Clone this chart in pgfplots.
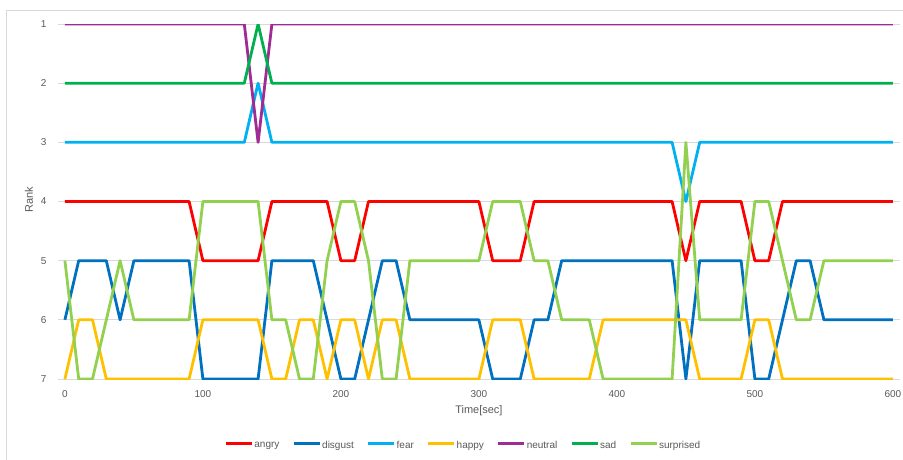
\documentclass[border=0pt]{standalone}
\usepackage{fontspec}
\setmainfont{Liberation Sans}
\usepackage{pgfplots}
\usepackage{pgfplotstable}
\pgfplotsset{compat=1.18}
\definecolor{cangry}{HTML}{FF0000}
\definecolor{cdisgust}{HTML}{0070C0}
\definecolor{cfear}{HTML}{00B0F0}
\definecolor{chappy}{HTML}{FFC000}
\definecolor{cneutral}{HTML}{A02B93}
\definecolor{csad}{HTML}{00B050}
\definecolor{csurprised}{HTML}{92D050}
\definecolor{txtgray}{RGB}{89,89,89}
\definecolor{gridgray}{RGB}{217,217,217}
\pgfplotstableread{
t an di fe ha ne sa su
0   4 6 3 7 1 2 5
10  4 5 3 6 1 2 7
20  4 5 3 6 1 2 7
30  4 5 3 7 1 2 6
40  4 6 3 7 1 2 5
50  4 5 3 7 1 2 6
60  4 5 3 7 1 2 6
70  4 5 3 7 1 2 6
80  4 5 3 7 1 2 6
90  4 5 3 7 1 2 6
100 5 7 3 6 1 2 4
110 5 7 3 6 1 2 4
120 5 7 3 6 1 2 4
130 5 7 3 6 1 2 4
140 5 7 2 6 3 1 4
150 4 5 3 7 1 2 6
160 4 5 3 7 1 2 6
170 4 5 3 6 1 2 7
180 4 5 3 6 1 2 7
190 4 6 3 7 1 2 5
200 5 7 3 6 1 2 4
210 5 7 3 6 1 2 4
220 4 6 3 7 1 2 5
230 4 5 3 6 1 2 7
240 4 5 3 6 1 2 7
250 4 6 3 7 1 2 5
260 4 6 3 7 1 2 5
270 4 6 3 7 1 2 5
280 4 6 3 7 1 2 5
290 4 6 3 7 1 2 5
300 4 6 3 7 1 2 5
310 5 7 3 6 1 2 4
320 5 7 3 6 1 2 4
330 5 7 3 6 1 2 4
340 4 6 3 7 1 2 5
350 4 6 3 7 1 2 5
360 4 5 3 7 1 2 6
370 4 5 3 7 1 2 6
380 4 5 3 7 1 2 6
390 4 5 3 6 1 2 7
400 4 5 3 6 1 2 7
410 4 5 3 6 1 2 7
420 4 5 3 6 1 2 7
430 4 5 3 6 1 2 7
440 4 5 3 6 1 2 7
450 5 7 4 6 1 2 3
460 4 5 3 7 1 2 6
470 4 5 3 7 1 2 6
480 4 5 3 7 1 2 6
490 4 5 3 7 1 2 6
500 5 7 3 6 1 2 4
510 5 7 3 6 1 2 4
520 4 6 3 7 1 2 5
530 4 5 3 7 1 2 6
540 4 5 3 7 1 2 6
550 4 6 3 7 1 2 5
560 4 6 3 7 1 2 5
570 4 6 3 7 1 2 5
580 4 6 3 7 1 2 5
590 4 6 3 7 1 2 5
600 4 6 3 7 1 2 5
}\ranks
\begin{document}
\begin{tikzpicture}
\begin{axis}[
  scale only axis,
  width=841.8pt, height=355pt,
  xmin=-5, xmax=605,
  ymin=1, ymax=7,
  y dir=reverse,
  xtick={0,100,...,600},
  ytick={1,...,7},
  /pgf/number format/assume math mode=true,
  major tick length=0pt,
  axis line style={draw=none},
  ymajorgrids,
  grid style={gridgray, line width=0.9pt},
  ticklabel style={font=\fontsize{10}{12}\selectfont, text=txtgray},
  yticklabel style={anchor=east, xshift=-8pt},
  xticklabel style={anchor=north, yshift=-8pt},
  xlabel={Time[sec]},
  ylabel={Rank},
  label style={font=\fontsize{11}{13}\selectfont, text=txtgray},
  xlabel style={at={(axis description cs:0.5,-0.0901)}, anchor=center},
  ylabel style={at={(axis description cs:-0.0345,0.505)}, anchor=center, rotate=0},
  every axis plot/.append style={line width=2.8pt, line join=round},
  legend columns=-1,
  legend style={at={(axis description cs:0.481,-0.188)}, anchor=center, draw=none,
    font=\fontsize{10}{12}\selectfont, text=txtgray,
    nodes={inner xsep=1pt, inner ysep=1pt},
    /tikz/every even column/.append style={column sep=12pt}},
  legend image code/.code={\draw[#1, line width=2.8pt] (0pt,2.5pt) -- (26pt,2.5pt);},
]
\addplot[cangry] table[x=t,y=an]{\ranks}; \addlegendentry{angry}
\addplot[cdisgust] table[x=t,y=di]{\ranks}; \addlegendentry{disgust}
\addplot[cfear] table[x=t,y=fe]{\ranks}; \addlegendentry{fear}
\addplot[chappy] table[x=t,y=ha]{\ranks}; \addlegendentry{happy}
\addplot[cneutral] table[x=t,y=ne]{\ranks}; \addlegendentry{neutral}
\addplot[csad] table[x=t,y=sa]{\ranks}; \addlegendentry{sad}
\addplot[csurprised] table[x=t,y=su]{\ranks}; \addlegendentry{surprised}
\end{axis}
\draw[gridgray, line width=1pt] (-51pt,-81pt) -- (-51pt,369pt) -- (846pt,369pt);
\pgfresetboundingbox
\useasboundingbox (-58pt,-80pt) rectangle (845pt,379pt);
\end{tikzpicture}
\end{document}
